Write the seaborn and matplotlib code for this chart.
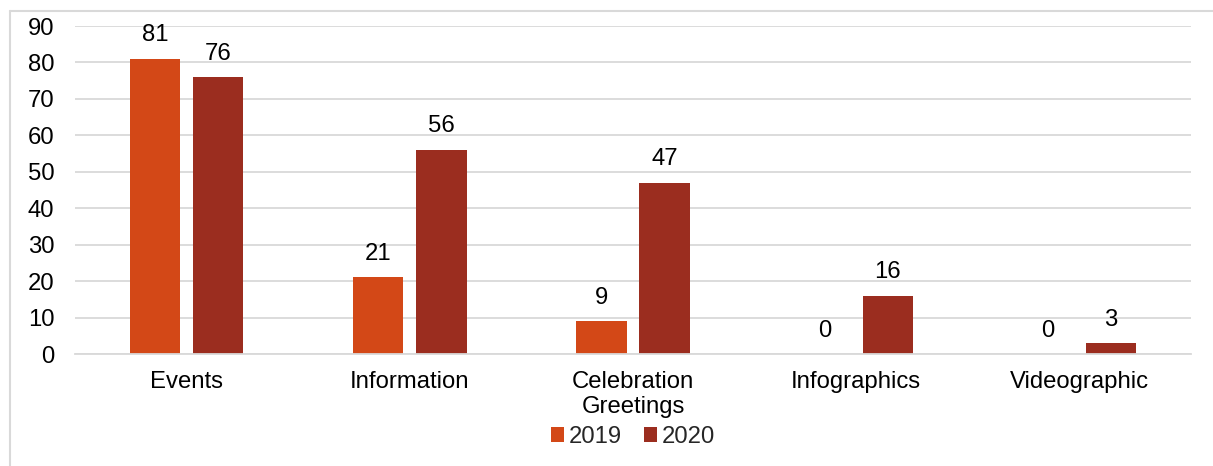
import pandas as pd
import matplotlib.pyplot as plt
import seaborn as sns
from matplotlib.lines import Line2D
from matplotlib.patches import Patch

categories = ["Events", "Information", "Celebration\nGreetings", "Infographics", "Videographic"]
years = ["2019", "2020"]
values_2019 = [81, 21, 9, 0, 0]
values_2020 = [76, 56, 47, 16, 3]
colors = ["#D34817", "#9B2D1F"]

df = pd.DataFrame({
    "Category": categories * 2,
    "Year": [years[0]] * len(categories) + [years[1]] * len(categories),
    "Count": values_2019 + values_2020,
})

sns.set_theme(style="white")
plt.rcParams["font.family"] = ["Liberation Sans", "DejaVu Sans"]
fs = 17.2

fig = plt.figure(figsize=(12.13, 4.66), dpi=100)
ax = fig.add_axes([0.0618, 0.2403, 0.9201, 0.7039])

sns.barplot(data=df, x="Category", y="Count", hue="Year", order=categories,
            hue_order=years, palette=colors, width=0.565, gap=0.2,
            linewidth=0, saturation=1, ax=ax)

for cont in ax.containers:
    ax.bar_label(cont, fmt="%d", padding=9, fontsize=fs, color="#000000")

ax.set_ylim(0, 90)
ax.set_xlim(-0.5, len(categories) - 0.5)
ax.set_yticks(range(0, 91, 10))
ax.yaxis.grid(True, color="#D9D9D9", linewidth=1.3)
ax.set_axisbelow(True)
for side in ["top", "right", "left"]:
    ax.spines[side].set_visible(False)
ax.spines["bottom"].set_color("#D9D9D9")
ax.spines["bottom"].set_linewidth(1.3)
ax.tick_params(axis="x", length=0, pad=12, labelsize=fs, labelcolor="#000000")
ax.tick_params(axis="y", length=0, pad=15, labelsize=fs, labelcolor="#000000")
ax.set_xlabel("")
ax.set_ylabel("")

if ax.get_legend() is not None:
    ax.get_legend().remove()
handles = [Patch(facecolor=c, edgecolor="none") for c in colors]
ax.legend(handles, years, ncol=2, frameon=False, loc="center",
          bbox_to_anchor=(0.5, -0.253), fontsize=fs, handlelength=0.57,
          handleheight=0.57, handletextpad=0.2, columnspacing=0.9,
          borderpad=0)

# outer chart frame (only top and left visible in the crop)
fig.add_artist(Line2D([10 / 1213, 1], [1 - 11 / 466, 1 - 11 / 466],
                      transform=fig.transFigure, color="#D9D9D9", linewidth=1.5))
fig.add_artist(Line2D([10 / 1213, 10 / 1213], [0, 1 - 11 / 466],
                      transform=fig.transFigure, color="#D9D9D9", linewidth=1.5))

fig.savefig("out.png", dpi=100)
